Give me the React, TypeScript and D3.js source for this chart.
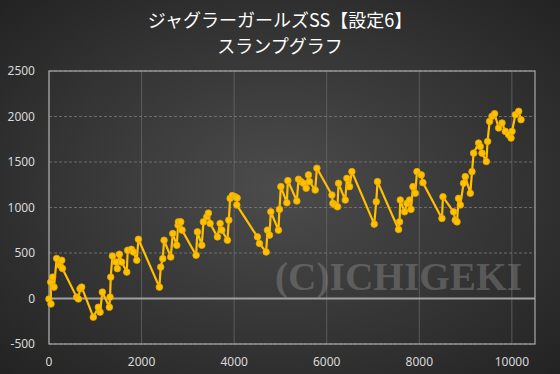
import React from "react";
import * as d3 from "d3";

const TITLE_LINE1 = "ジャグラーガールズSS【設定6】";
const TITLE_LINE2 = "スランプグラフ";
const WATERMARK = "(C)ICHIGEKI";

const xTicks = [0, 2000, 4000, 6000, 8000, 10000];
const yTicks = [-500, 0, 500, 1000, 1500, 2000, 2500];

const games = [
  0, 43, 37, 80, 108, 166, 238, 275, 290, 598, 635, 670, 706, 958, 1066, 1103, 1153, 1305, 1319, 1334, 1370,
  1449, 1477, 1521, 1571, 1680, 1701, 1780, 1824, 1896, 1932, 2385, 2414, 2458, 2486, 2631, 2674, 2760, 2789,
  2796, 2847, 2875, 3178, 3207, 3301, 3336, 3410, 3444, 3481, 3639, 3697, 3734, 3855, 3885, 3913, 3960, 4022,
  4065, 4058, 4503, 4547, 4692, 4720, 4763, 4793, 4957, 4979, 5009, 5139, 5161, 5355, 5390, 5442, 5498, 5556,
  5606, 5628, 5751, 5788, 6112, 6134, 6183, 6233, 6255, 6400, 6436, 6493, 6544, 7027, 7070, 7098, 7552, 7574,
  7589, 7682, 7733, 7790, 7820, 7863, 7913, 7950, 8043, 8079, 8490, 8512, 8741, 8778, 8815, 8849, 8886, 8957,
  8994, 9102, 9139, 9174, 9282, 9318, 9355, 9448, 9476, 9519, 9571, 9627, 9714, 9787, 9859, 9930, 9982, 10004,
  10075, 10147, 10198,
];
const medals = [
  -5, -60, 180, 235, 125, 440, 365, 420, 330, 15, -5, 107, 125, -205, -96, -150, 70, -96, 15, 235, 467, 400,
  328, 486, 400, 290, 530, 540, 511, 420, 651, 125, 345, 438, 640, 456, 714, 585, 806, 842, 842, 751, 475, 732,
  585, 842, 898, 938, 825, 677, 825, 751, 640, 861, 1100, 1130, 1118, 1104, 1027, 677, 604, 511, 751, 696, 953,
  751, 979, 1229, 1052, 1295, 1071, 1310, 1284, 1266, 1211, 1358, 1284, 1192, 1432, 1137, 1045, 1027, 1008, 1266,
  1082, 1321, 1229, 1394, 817, 1063, 1284, 758, 842, 1082, 953, 1045, 1082, 979, 1229, 1156, 1394, 1358, 1273,
  880, 1118, 953, 861, 842, 1100, 1027, 1266, 1339, 1156, 1394, 1597, 1708, 1670, 1597, 1505, 1726, 1946, 2002,
  2031, 1873, 1929, 1836, 1800, 1763, 1836, 2020, 2057, 1965,
];

const W = 560;
const H = 374;
const plot = { left: 49, right: 535, top: 71, bottom: 344 };

export default function App() {
  const x = d3.scaleLinear().domain([0, 10500]).range([plot.left, plot.right]);
  const y = d3.scaleLinear().domain([-500, 2500]).range([plot.bottom, plot.top]);
  const pts = games.map((g, i) => [x(g), y(medals[i])] as [number, number]);
  const line = d3.line()(pts) || "";

  return (
    <svg
      width={W}
      height={H}
      style={{ position: "absolute", left: 0, top: 0 }}
    >
      <defs>
        <radialGradient id="bg" cx="50%" cy="50%" r="70%">
          <stop offset="0%" stopColor="#4c4c4c" />
          <stop offset="100%" stopColor="#232323" />
        </radialGradient>
      </defs>
      <rect x={0} y={0} width={W} height={H} fill="url(#bg)" />
      <text
        x={W / 2}
        y={27}
        textAnchor="middle"
        fill="#ffffff"
        fontSize={18}
        fontFamily="'Noto Sans CJK JP', sans-serif"
      >
        {TITLE_LINE1}
      </text>
      <text
        x={W / 2}
        y={53}
        textAnchor="middle"
        fill="#ffffff"
        fontSize={18}
        fontFamily="'Noto Sans CJK JP', sans-serif"
      >
        {TITLE_LINE2}
      </text>

      {/* vertical gridlines */}
      {xTicks.map((t) => (
        <line
          key={"vx" + t}
          x1={x(t)}
          x2={x(t)}
          y1={plot.top}
          y2={plot.bottom}
          stroke="#666666"
          strokeWidth={0.8}
        />
      ))}
      {/* horizontal dashed gridlines */}
      {yTicks
        .filter((t) => t !== 0)
        .map((t) => (
          <line
            key={"hy" + t}
            x1={plot.left}
            x2={plot.right}
            y1={y(t)}
            y2={y(t)}
            stroke="#7a7a7a"
            strokeWidth={0.8}
            strokeDasharray="3,2"
          />
        ))}
      {/* zero line */}
      <line
        x1={plot.left}
        x2={plot.right}
        y1={y(0)}
        y2={y(0)}
        stroke="#a0a0a0"
        strokeWidth={1.8}
      />
      {/* plot border */}
      <rect
        x={plot.left}
        y={plot.top}
        width={plot.right - plot.left}
        height={plot.bottom - plot.top}
        fill="none"
        stroke="#a8a8a8"
        strokeWidth={1.2}
      />

      {/* watermark */}
      <text
        x={275}
        y={290}
        fill="#8a8a8a"
        fillOpacity={0.45}
        fontSize={39}
        fontWeight="bold"
        fontFamily="'Liberation Serif', 'DejaVu Serif', serif"
        textLength={247}
        lengthAdjust="spacingAndGlyphs"
      >
        {WATERMARK}
      </text>

      {/* axis labels */}
      {yTicks.map((t) => (
        <text
          key={"yl" + t}
          x={35}
          y={y(t)}
          dy="0.35em"
          textAnchor="end"
          fill="#d9d9d9"
          fontSize={12}
          fontFamily="'Noto Sans', sans-serif"
        >
          {t}
        </text>
      ))}
      {xTicks.map((t) => (
        <text
          key={"xl" + t}
          x={x(t)}
          y={366}
          textAnchor="middle"
          fill="#d9d9d9"
          fontSize={12}
          fontFamily="'Noto Sans', sans-serif"
        >
          {t}
        </text>
      ))}

      {/* series */}
      <path d={line} fill="none" stroke="#FFC000" strokeWidth={2.2} strokeLinejoin="round" />
      {pts.map((p, i) => (
        <circle key={"m" + i} cx={p[0]} cy={p[1]} r={3.3} fill="#FFC000" stroke="#E6A800" strokeWidth={0.8} />
      ))}
    </svg>
  );
}
